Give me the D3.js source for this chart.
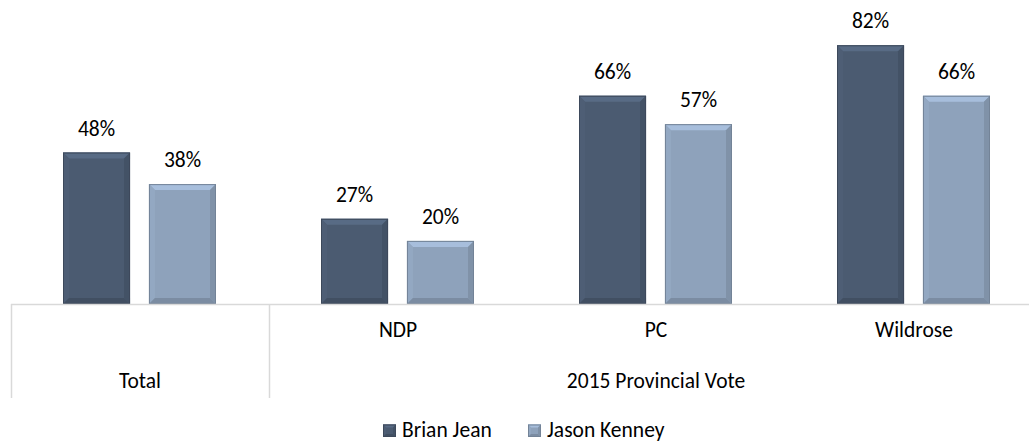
<!DOCTYPE html>
<html><head><meta charset="utf-8">
<script src="https://cdn.jsdelivr.net/npm/d3@7"></script>
<style>body{margin:0;background:#fff}svg{display:block}text{font-family:Carlito,"Open Sans",sans-serif;fill:#000}</style>
</head><body>
<script>
const categories = ["Total", "NDP", "PC", "Wildrose"];
const groupLabels = ["Total", "2015 Provincial Vote"];
const seriesNames = ["Brian Jean", "Jason Kenney"];
const brianJean = [48, 27, 66, 82];
const jasonKenney = [38, 20, 57, 66];
const colors = ["#4b5b71", "#8ea2bb"];

const W = 1029, H = 443, base = 304, fs = 21.5;
const svg = d3.select("body").append("svg").attr("width", W).attr("height", H);
const x = d3.scaleBand().domain(categories).range([11, 1043]).paddingInner(0).paddingOuter(0);
const xs = d3.scaleBand().domain(seriesNames).range([52, 205]).paddingInner(0.22);
const y = d3.scaleLinear().domain([0, 100]).range([base, base - 315.5]);

function bevelBar(g, x0, y0, w, h, c, bv) {
  const b = Math.min(bv, h / 2);
  const cc = d3.color(c);
  g.append("rect").attr("x", x0).attr("y", y0).attr("width", w).attr("height", h).attr("fill", c);
  g.append("polygon").attr("points", [[x0, y0], [x0 + w, y0], [x0 + w - b, y0 + b], [x0 + b, y0 + b]].join(" "))
    .attr("fill", cc.brighter(0.45));
  g.append("polygon").attr("points", [[x0, y0], [x0 + b, y0 + b], [x0 + b, y0 + h - b], [x0, y0 + h]].join(" "))
    .attr("fill", cc.brighter(0.1));
  g.append("polygon").attr("points", [[x0 + w, y0], [x0 + w, y0 + h], [x0 + w - b, y0 + h - b], [x0 + w - b, y0 + b]].join(" "))
    .attr("fill", cc.darker(0.3));
  g.append("polygon").attr("points", [[x0, y0 + h], [x0 + w, y0 + h], [x0 + w - b, y0 + h - b], [x0 + b, y0 + h - b]].join(" "))
    .attr("fill", cc.darker(0.4));
  g.append("rect").attr("x", x0 + 0.5).attr("y", y0 + 0.5).attr("width", w - 1).attr("height", h - 1)
    .attr("fill", "none").attr("stroke", cc.darker(0.6)).attr("stroke-width", 1);
}

const series = [brianJean, jasonKenney];
series.forEach((vals, si) => {
  vals.forEach((v, ci) => {
    const g = svg.append("g");
    const x0 = x(categories[ci]) + xs(seriesNames[si]);
    const w = xs.bandwidth();
    bevelBar(g, x0, y(v), w, base - y(v), colors[si], 6);
    svg.append("text").attr("x", x0 + w / 2).attr("y", y(v) - 17)
      .attr("text-anchor", "middle").attr("font-size", fs).text(v + "%");
  });
});

const axisC = "#d9d9d9";
svg.append("line").attr("x1", 11).attr("x2", W).attr("y1", base + 0.5).attr("y2", base + 0.5).attr("stroke", axisC).attr("stroke-width", 1.5);
[11, x("NDP")].forEach(xx => {
  svg.append("line").attr("x1", xx + 0.5).attr("x2", xx + 0.5).attr("y1", base).attr("y2", 398).attr("stroke", axisC).attr("stroke-width", 1.5);
});
categories.slice(1).forEach(c => {
  svg.append("text").attr("x", x(c) + x.bandwidth() / 2).attr("y", 337).attr("text-anchor", "middle").attr("font-size", fs).text(c);
});
svg.append("text").attr("x", x("Total") + x.bandwidth() / 2).attr("y", 388).attr("text-anchor", "middle").attr("font-size", fs).text(groupLabels[0]);
svg.append("text").attr("x", (x("NDP") + x("Wildrose") + x.bandwidth()) / 2).attr("y", 388).attr("text-anchor", "middle").attr("font-size", fs).text(groupLabels[1]);

const legX = [383, 528];
seriesNames.forEach((n, i) => {
  const g = svg.append("g");
  bevelBar(g, legX[i], 424.5, 13, 12.5, colors[i], 3);
  svg.append("text").attr("x", legX[i] + 19).attr("y", 437).attr("font-size", fs).text(n);
});
</script>
</body></html>
